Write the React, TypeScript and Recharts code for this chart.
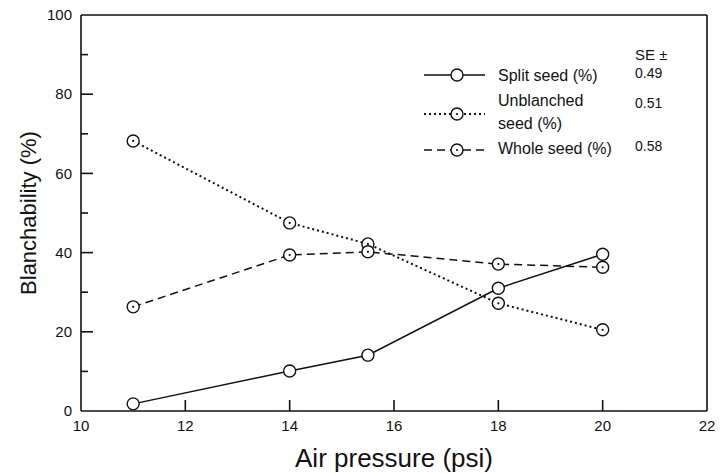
import React from 'react';
import { LineChart, Line, XAxis, YAxis, ReferenceLine } from 'recharts';

// Air pressure (psi) at which seeds were blanched
const pressure = [11, 14, 15.5, 18, 20];
// Blanchability (%) per seed class
const splitSeed = [1.8, 10.1, 14.1, 31.0, 39.6];
const unblanchedSeed = [68.2, 47.5, 42.2, 27.2, 20.5];
const wholeSeed = [26.3, 39.4, 40.2, 37.1, 36.3];

const xTicks = [10, 12, 14, 16, 18, 20, 22];
const yTicks = [0, 10, 20, 30, 40, 50, 60, 70, 80, 90, 100];
const yLabelled = [0, 20, 40, 60, 80, 100];

const seriesNames = ['Split seed (%)', 'Unblanched seed (%)', 'Whole seed (%)'];
const seValues = ['0.49', '0.51', '0.58'];

const FONT = '"Liberation Sans", Arial, Helvetica, sans-serif';
const INK = '#111';

const chartData = pressure.map((p, i) => ({
  pressure: p,
  split: splitSeed[i],
  unblanched: unblanchedSeed[i],
  whole: wholeSeed[i],
}));

const TICK_MARGIN = 9;

// ticks point into the plot, only the even tens get a label
function YTick(props: any) {
  const { x, y, payload } = props;
  const value = payload.value;
  const major = yLabelled.includes(value);
  const axisX = x + TICK_MARGIN;
  return (
    <g>
      {value !== 0 && value !== 100 && (
        <line x1={axisX} x2={axisX + (major ? 12 : 7)} y1={y} y2={y} stroke={INK} strokeWidth={1.6} />
      )}
      {major && (
        <text x={x} y={y} dy="0.35em" textAnchor="end" fontSize={15} fontFamily={FONT} fill={INK}>
          {value}
        </text>
      )}
    </g>
  );
}

function XTick(props: any) {
  const { x, y, payload } = props;
  const axisY = y - TICK_MARGIN;
  const value = payload.value;
  const edge = value === xTicks[0] || value === xTicks[xTicks.length - 1];
  return (
    <g>
      {!edge && <line x1={x} x2={x} y1={axisY} y2={axisY - 11} stroke={INK} strokeWidth={1.6} />}
      <text x={x} y={y} dy="0.75em" textAnchor="middle" fontSize={15} fontFamily={FONT} fill={INK}>
        {value}
      </text>
    </g>
  );
}

function makeDot(centerDot: boolean) {
  return (props: any) => {
    const { cx, cy, index } = props;
    return (
      <g key={`dot-${index}`}>
        <circle cx={cx} cy={cy} r={6} fill="white" stroke={INK} strokeWidth={1.4} />
        {centerDot && <circle cx={cx} cy={cy} r={1.1} fill={INK} />}
      </g>
    );
  };
}

const lineStyles = [
  { dash: undefined, width: 1.5, centerDot: false },
  { dash: '2 3', width: 2, centerDot: true },
  { dash: '8 5', width: 1.5, centerDot: true },
];

function LegendBox() {
  const rows = [
    { y: 35, texts: [{ t: seriesNames[0], y: 35 }], se: 33 },
    { y: 74, texts: [{ t: 'Unblanched', y: 60 }, { t: 'seed (%)', y: 83 }], se: 63 },
    { y: 110, texts: [{ t: seriesNames[2], y: 108 }], se: 106 },
  ];
  return (
    <svg width={280} height={130} style={{ display: 'block' }}>
      <text x={220} y={15} dy="0.35em" fontSize={15} fontFamily={FONT} fill={INK}>
        SE ±
      </text>
      {rows.map((r, i) => {
        const s = lineStyles[i];
        return (
          <g key={i}>
            <line x1={9} x2={70} y1={r.y} y2={r.y} stroke={INK} strokeWidth={s.width} strokeDasharray={s.dash} />
            <circle cx={42} cy={r.y} r={6} fill="white" stroke={INK} strokeWidth={1.4} />
            {s.centerDot && <circle cx={42} cy={r.y} r={1.1} fill={INK} />}
            {r.texts.map((tx) => (
              <text key={tx.t} x={83} y={tx.y} dy="0.35em" fontSize={16} fontFamily={FONT} fill={INK}>
                {tx.t}
              </text>
            ))}
            <text x={220} y={r.se} dy="0.35em" fontSize={14} fontFamily={FONT} fill={INK}>
              {seValues[i]}
            </text>
          </g>
        );
      })}
    </svg>
  );
}

export default function App() {
  return (
    <div style={{ position: 'absolute', left: 0, top: 0, width: 723, height: 473, background: 'white' }}>
      <LineChart
        width={723}
        height={473}
        data={chartData}
        margin={{ top: 15, right: 16, bottom: 0, left: 20 }}
      >
        <XAxis
          dataKey="pressure"
          type="number"
          domain={[10, 22]}
          ticks={xTicks}
          interval={0}
          height={62}
          tickSize={0}
          tickMargin={TICK_MARGIN}
          tick={<XTick />}
          axisLine={{ stroke: INK, strokeWidth: 1.6 }}
          label={(p: any) => {
            const vb = p.viewBox;
            return (
              <text x={vb.x + vb.width / 2} y={467} textAnchor="middle" fontSize={26} fontFamily={FONT} fill={INK}>
                Air pressure (psi)
              </text>
            );
          }}
        />
        <YAxis
          type="number"
          domain={[0, 100]}
          ticks={yTicks}
          interval={0}
          width={61}
          tickSize={0}
          tickMargin={TICK_MARGIN}
          tick={<YTick />}
          axisLine={{ stroke: INK, strokeWidth: 1.6 }}
          label={(p: any) => {
            const vb = p.viewBox;
            const cy = vb.y + vb.height / 2;
            return (
              <text
                x={36}
                y={cy}
                transform={`rotate(-90 36 ${cy})`}
                textAnchor="middle"
                fontSize={22}
                fontFamily={FONT}
                fill={INK}
              >
                Blanchability (%)
              </text>
            );
          }}
        />
        <ReferenceLine y={100} stroke={INK} strokeWidth={1.6} />
        <ReferenceLine x={22} stroke={INK} strokeWidth={1.6} />
        <Line
          dataKey="split"
          name={seriesNames[0]}
          stroke={INK}
          strokeWidth={lineStyles[0].width}
          dot={makeDot(false)}
          activeDot={false}
          isAnimationActive={false}
        />
        <Line
          dataKey="unblanched"
          name={seriesNames[1]}
          stroke={INK}
          strokeWidth={lineStyles[1].width}
          strokeDasharray={lineStyles[1].dash}
          dot={makeDot(true)}
          activeDot={false}
          isAnimationActive={false}
        />
        <Line
          dataKey="whole"
          name={seriesNames[2]}
          stroke={INK}
          strokeWidth={lineStyles[2].width}
          strokeDasharray={lineStyles[2].dash}
          dot={makeDot(true)}
          activeDot={false}
          isAnimationActive={false}
        />
      </LineChart>
      <div style={{ position: 'absolute', left: 415, top: 40 }}>
        <LegendBox />
      </div>
    </div>
  );
}
